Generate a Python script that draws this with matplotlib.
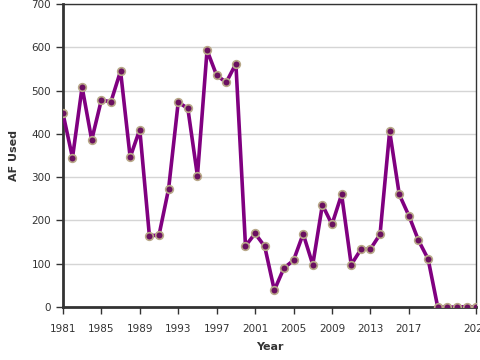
import matplotlib
matplotlib.use("Agg")
import matplotlib.pyplot as plt
import numpy as np

years = list(range(1981, 2025))
af_used = [448, 345, 508, 386, 478, 474, 545, 346, 410, 165,
           166, 273, 473, 459, 303, 593, 535, 519, 562, 141,
           170, 140, 39, 90, 108, 169, 98, 236, 191, 260,
           98, 133, 134, 168, 406, 260, 211, 154, 111, 0,
           0, 0, 1, 0]
xtick_years = [1981, 1985, 1989, 1993, 1997, 2001, 2005, 2009, 2013, 2017, 2024]
yticks = [0, 100, 200, 300, 400, 500, 600, 700]

fig = plt.figure(figsize=(4.8, 3.6), dpi=100)
ax = fig.add_axes([0.131, 0.147, 0.861, 0.842])

ax.plot(years, af_used, color='#800080', linewidth=2.6, zorder=3,
        marker='o', markersize=5.5, markerfacecolor='#6a1060',
        markeredgecolor='#b8a888', markeredgewidth=1.2)

ax.set_xlim(1981, 2024)
ax.set_ylim(0, 700)
ax.set_xticks(xtick_years)
ax.set_xticklabels([str(y) for y in xtick_years])
ax.set_yticks(yticks)
ax.yaxis.grid(True, color='#d5d5d5', linewidth=1)
ax.set_axisbelow(True)

for side in ['top', 'right']:
    ax.spines[side].set_color('#333333')
    ax.spines[side].set_linewidth(1)
for side in ['left', 'bottom']:
    ax.spines[side].set_color('#333333')
    ax.spines[side].set_linewidth(2)

ax.tick_params(axis='both', direction='out', length=5, width=1,
               color='#333333', labelsize=7.5, labelcolor='#333333')
ax.tick_params(axis='x', pad=7)

ax.set_xlabel('Year', fontsize=8, fontweight='bold', color='#333333', labelpad=6)
ax.set_ylabel('AF Used', fontsize=8, fontweight='bold', color='#333333', labelpad=9)

fig.savefig('out.png', dpi=100)
